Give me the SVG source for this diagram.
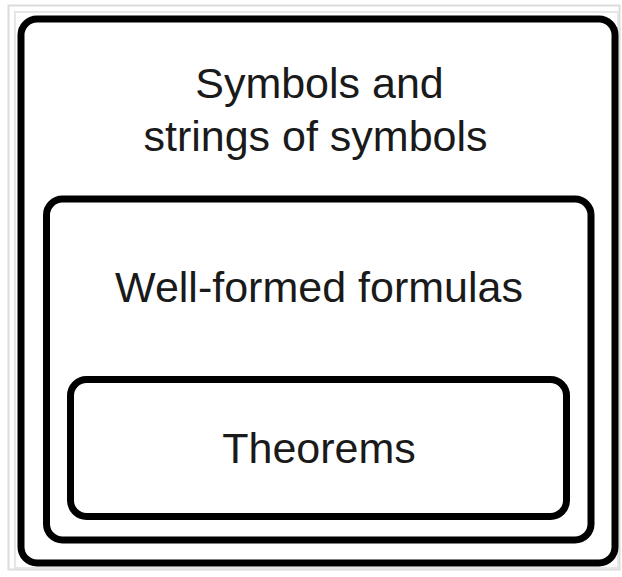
<svg xmlns="http://www.w3.org/2000/svg" width="622" height="577" viewBox="0 0 622 577">
  <style>
    .box { fill: none; stroke: #000; stroke-width: 7; }
    .lbl { font-family: "Liberation Sans", Arial, sans-serif; font-size: 43px; fill: #1a1a1a; text-anchor: middle; }
  </style>
  <rect x="0" y="0" width="622" height="577" fill="#fff"/>
  <rect x="8.5" y="5.5" width="611" height="564" fill="none" stroke="#dcdcdc" stroke-width="2"/>
  <rect x="15" y="12" width="603" height="556" fill="none" stroke="#e6e6e6" stroke-width="2"/>
  <g id="outer">
    <rect class="box" x="21" y="19" width="594" height="544" rx="16" ry="16"/>
    <text class="lbl" x="319.5" y="98">Symbols and</text>
    <text class="lbl" x="315.5" y="151">strings of symbols</text>
  </g>
  <g id="wff">
    <rect class="box" x="46.5" y="199" width="544.5" height="341" rx="16" ry="16"/>
    <text class="lbl" x="319" y="302">Well-formed formulas</text>
  </g>
  <g id="theorems">
    <rect class="box" x="70.5" y="379.5" width="496" height="137" rx="16" ry="16"/>
    <text class="lbl" x="319" y="463">Theorems</text>
  </g>
  <g id="connectors"/>
</svg>
